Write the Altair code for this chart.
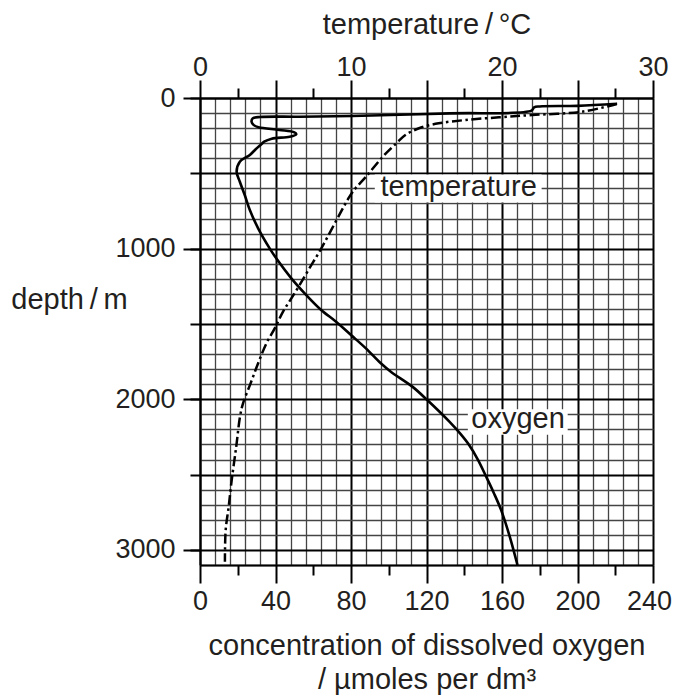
import altair as alt
import pandas as pd

# ---------------- data ----------------
# dissolved oxygen profile (depth in m, concentration in µmol per dm3)
oxygen_depth = [38, 52, 56, 62, 84, 102, 119, 124, 126, 135, 157, 180, 194, 212, 228,
                240, 257, 270, 290, 307, 340, 378, 423, 489, 556, 644, 743, 865, 998,
                1064, 1197, 1308, 1407, 1485, 1573, 1662, 1761, 1817, 1916, 2005, 2147,
                2230, 2302, 2400, 2513, 2620, 2734, 2911, 3100]
oxygen_conc = [221, 200, 180, 177, 175.6, 132, 80.7, 52.7, 32, 28, 27.3, 28.5, 31, 42, 50,
               51, 47.5, 38, 34, 32.5, 29.5, 26.4, 21.1, 19.4, 21.1, 23.7, 26.4, 30.8, 36.9,
               40.4, 48.4, 56.3, 64.2, 72.1, 80.0, 87.9, 95.8, 101.1, 112.5, 120.4, 132.0,
               138.0, 142.5, 147.2, 151.6, 155.6, 159.5, 164.1, 168.2]

# temperature profile (depth in m, temperature in °C)
temp_depth = [40, 91, 113, 128, 146, 168, 201, 246, 301, 390, 522, 599, 655, 1004, 1130,
              1241, 1330, 1418, 1529, 1628, 1761, 1894, 2027, 2115, 2314, 2536, 2713,
              2868, 3078]
temp_c = [27.6, 25.3, 22.0, 19.8, 17.6, 15.8, 14.5, 13.6, 13.0, 12.1, 11.0, 10.3, 9.9, 8.0,
          7.25, 6.6, 6.05, 5.5, 4.95, 4.4, 3.85, 3.35, 2.85, 2.65, 2.4, 2.1, 1.9, 1.7, 1.65]

# axis ticks
oxygen_ticks_major = [0, 40, 80, 120, 160, 200, 240]
oxygen_ticks_minor = [20, 60, 100, 140, 180, 220]
depth_labels = [0, 1000, 2000, 3000]
depth_major = [0, 500, 1000, 1500, 2000, 2500, 3000]
oxygen_grid_minor = [v for v in range(0, 241, 8) if v % 40]
depth_grid_minor = [v for v in range(0, 3101, 100) if v % 500]

# curve labels
label_text = ["temperature", "oxygen"]
label_x = [137, 168.5]
label_depth = [652, 2193]
box_x1 = [92.6, 141.9]
box_x2 = [181, 194.8]
box_d1 = [507, 2066]
box_d2 = [693, 2236]

# ---------------- tables ----------------
oxy = pd.DataFrame({"depth": oxygen_depth, "xval": oxygen_conc})
oxy["order"] = range(len(oxy))
tmp = pd.DataFrame({"depth": temp_depth, "temp": temp_c})
tmp["order"] = range(len(tmp))
both = pd.concat([oxy.assign(series="oxygen"),
                  tmp.assign(xval=tmp["temp"] * 8, series="temperature")[["depth", "xval", "order", "series"]]],
                 ignore_index=True)
labels = pd.DataFrame({"text": label_text, "x": label_x, "depth": label_depth,
                       "x1": box_x1, "x2": box_x2, "d1": box_d1, "d2": box_d2})

FONT = "Liberation Sans"
INK = "#231f20"
GRID_MINOR = "#444444"
XS = alt.Scale(domain=[0, 240], nice=False, zero=False)
YS = alt.Scale(domain=[0, 3100], reverse=True, nice=False, zero=False)

base_ax = dict(labelFont=FONT, titleFont=FONT, labelColor=INK, titleColor=INK,
               tickColor="#000", domainColor="#000", tickWidth=2, domainWidth=2,
               titleFontWeight="normal")


def ghost(xaxis, yaxis):
    enc = dict(x=alt.X("xval:Q", scale=XS, axis=xaxis),
               y=alt.Y("depth:Q", scale=YS, axis=yaxis),
               detail="series:N")
    return alt.Chart(both).mark_point(opacity=0, size=1).encode(**enc)


# minor grid
l_minor = ghost(
    alt.Axis(orient="bottom", values=oxygen_grid_minor, grid=True, gridColor=GRID_MINOR,
             gridWidth=1.3, ticks=False, labels=False, domain=False, title=None),
    alt.Axis(orient="left", values=depth_grid_minor, grid=True, gridColor=GRID_MINOR,
             gridWidth=1.3, ticks=False, labels=False, domain=False, title=None),
)

# major grid, bottom labels, 500 m ticks
l_major = ghost(
    alt.Axis(orient="bottom", values=oxygen_ticks_major, grid=True, gridColor="#000",
             gridWidth=2, tickSize=18, labels=True, labelFontSize=27, labelPadding=26,
             labelBaseline="alphabetic", labelFlush=False, domain=True, format="d",
             labelOffset={"condition": {"test": "datum.value === 240", "value": -4}, "value": 0},
             title=["concentration of dissolved oxygen", "/ µmoles per dm³"],
             titleFontSize=29, titleX=226.5, titleY=89, titleAlign="center",
             titleBaseline="alphabetic", titleLineHeight=34, **base_ax),
    alt.Axis(orient="left", values=depth_major, grid=True, gridColor="#000", gridWidth=2,
             tickSize=10, labels=False, domain=True, title=None, **base_ax),
)

# bottom minor ticks, left labelled ticks
l_left = ghost(
    alt.Axis(orient="bottom", values=oxygen_ticks_minor, grid=False, tickSize=10,
             labels=False, domain=False, title=None, **base_ax),
    alt.Axis(orient="left", values=depth_labels, grid=False, tickSize=17, labels=True,
             labelFontSize=27, labelPadding=8, domain=False, format="d",
             title="depth\u2009/\u2009m", titleAngle=0, titleFontSize=29, titleX=-131,
             titleY=210, titleAlign="center", titleBaseline="alphabetic", **base_ax),
)

# top temperature axis
l_top = ghost(
    alt.Axis(orient="top", values=oxygen_ticks_major, grid=False, tickSize=18,
             labels=True, labelFontSize=27, labelPadding=5, labelBaseline="alphabetic",
             labelFlush=False,
             labelExpr="datum.value % 80 === 0 ? '' + (datum.value / 8) : ''",
             domain=True, title="temperature\u2009/\u2009°C", titleFontSize=29,
             titleX=226.5, titleY=-65, titleAlign="center", titleBaseline="alphabetic",
             **base_ax),
    None,
)
l_top_minor = ghost(
    alt.Axis(orient="top", values=oxygen_ticks_minor, grid=False, tickSize=10,
             labels=False, domain=False, title=None, **base_ax),
    None,
)

boxes = alt.Chart(labels).mark_rect(color="white").encode(
    x=alt.X("x1:Q", scale=XS, axis=None), x2="x2:Q",
    y=alt.Y("d1:Q", scale=YS, axis=None), y2="d2:Q",
)

oxy_line = alt.Chart(oxy).mark_line(color="#000", strokeWidth=2.6, interpolate="catmull-rom").encode(
    x=alt.X("xval:Q", scale=XS, axis=None),
    y=alt.Y("depth:Q", scale=YS, axis=None),
    order="order:Q",
)

temp_line = alt.Chart(tmp).transform_calculate(xval="datum.temp * 240 / 30").mark_line(
    color="#000", strokeWidth=2.5, strokeDash=[10, 3.5, 2.5, 3.5], interpolate="catmull-rom"
).encode(
    x=alt.X("xval:Q", scale=XS, axis=None),
    y=alt.Y("depth:Q", scale=YS, axis=None),
    order="order:Q",
)

texts = alt.Chart(labels).mark_text(font=FONT, fontSize=29, color=INK, align="center",
                                    baseline="alphabetic").encode(
    x=alt.X("x:Q", scale=XS, axis=None),
    y=alt.Y("depth:Q", scale=YS, axis=None),
    text="text:N",
)

chart = alt.layer(
    l_minor, l_major, l_left, l_top, l_top_minor, boxes, oxy_line, temp_line, texts
).resolve_axis(x="independent", y="independent").properties(
    width=453, height=467,
    autosize=alt.AutoSizeParams(type="none"),
    padding={"left": 192, "top": 90, "right": 19, "bottom": 133},
    background="white",
).configure_view(stroke=None)

chart.save("out.html", embed_options={"renderer": "svg", "actions": False})
